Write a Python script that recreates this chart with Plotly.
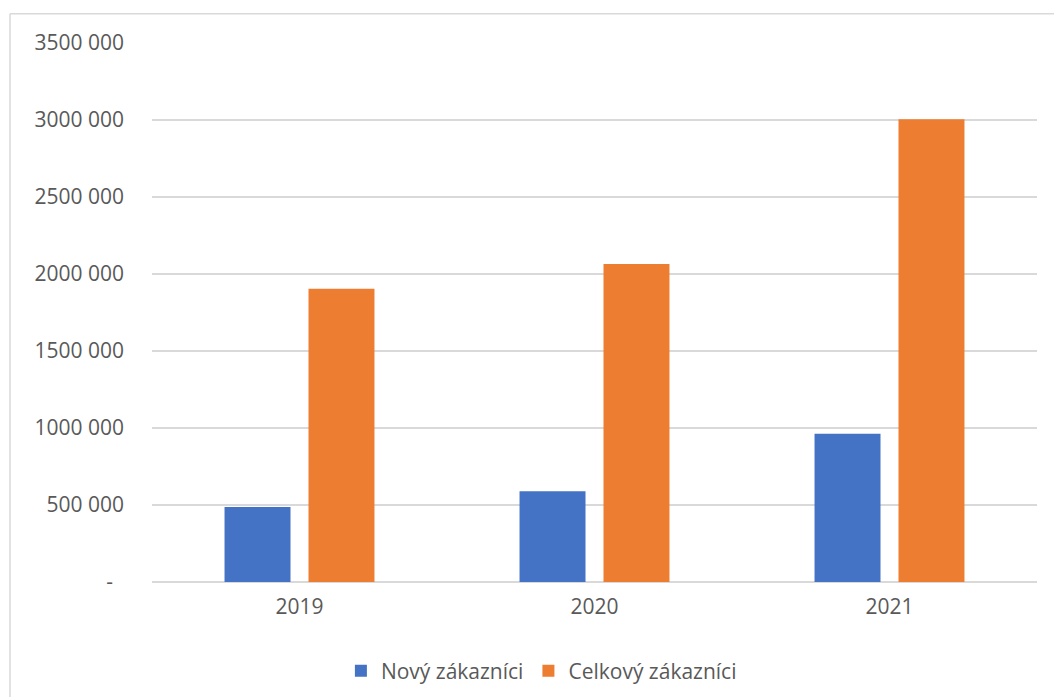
import plotly.graph_objects as go

# Data
years = ["2019", "2020", "2021"]
new_customers = [487000, 589000, 963000]
total_customers = [1905000, 2065000, 3005000]

tick_values = [0, 500000, 1000000, 1500000, 2000000, 2500000, 3000000, 3500000]
tick_labels = ["-\u00a0\u00a0", "500 000", "1000 000", "1500 000", "2000 000",
               "2500 000", "3000 000", "3500 000"]

FONT = "Open Sans"
FONT_SIZE = 21
TEXT_COLOR = "#595959"
GRID_COLOR = "#d9d9d9"

fig = go.Figure()
fig.add_trace(go.Bar(
    x=years, y=new_customers, name="Nový zákazníci",
    marker=dict(color="#4472C4", line=dict(width=0)),
))
fig.add_trace(go.Bar(
    x=years, y=total_customers, name="Celkový zákazníci",
    marker=dict(color="#ED7D31", line=dict(width=0)),
))

W, H = 1054, 697
ML, MR, MT, MB = 152, 17, 43, 115
plot_w = W - ML - MR
plot_h = H - MT - MB

# chart frame (left and top edges of the chart-area border)
bx = (10 - ML) / plot_w
by = 1 + (MT - 13.7) / plot_h
fig.add_shape(type="line", xref="paper", yref="paper",
              x0=bx, x1=bx, y0=-0.5, y1=by,
              line=dict(color=GRID_COLOR, width=1.5))
fig.add_shape(type="line", xref="paper", yref="paper",
              x0=bx, x1=1.2, y0=by, y1=by,
              line=dict(color=GRID_COLOR, width=1.5))

fig.update_layout(
    width=W, height=H,
    margin=dict(l=ML, r=MR, t=MT, b=MB, pad=0, autoexpand=False),
    paper_bgcolor="white", plot_bgcolor="white",
    font=dict(family=FONT, size=FONT_SIZE, color=TEXT_COLOR),
    barmode="group", bargap=0.4307, bargroupgap=0.2143,
    showlegend=True,
    legend=dict(orientation="h", xanchor="center", yanchor="middle",
                x=0.44, y=1 - (671 - MT) / plot_h,
                font=dict(family=FONT, size=FONT_SIZE, color=TEXT_COLOR),
                bgcolor="rgba(0,0,0,0)"),
    xaxis=dict(showgrid=False, showline=False, zeroline=False,
               ticks="", tickfont=dict(size=FONT_SIZE, color=TEXT_COLOR),
               ticklabelstandoff=10, automargin=False),
    yaxis=dict(range=[0, 3500000], tickvals=tick_values, ticktext=tick_labels,
               showgrid=True, gridcolor=GRID_COLOR, gridwidth=1.5,
               zeroline=True, zerolinecolor=GRID_COLOR, zerolinewidth=1.5,
               showline=False, ticks="", ticklabelstandoff=27,
               tickfont=dict(size=FONT_SIZE, color=TEXT_COLOR),
               automargin=False),
)

fig.write_html("out.html")
